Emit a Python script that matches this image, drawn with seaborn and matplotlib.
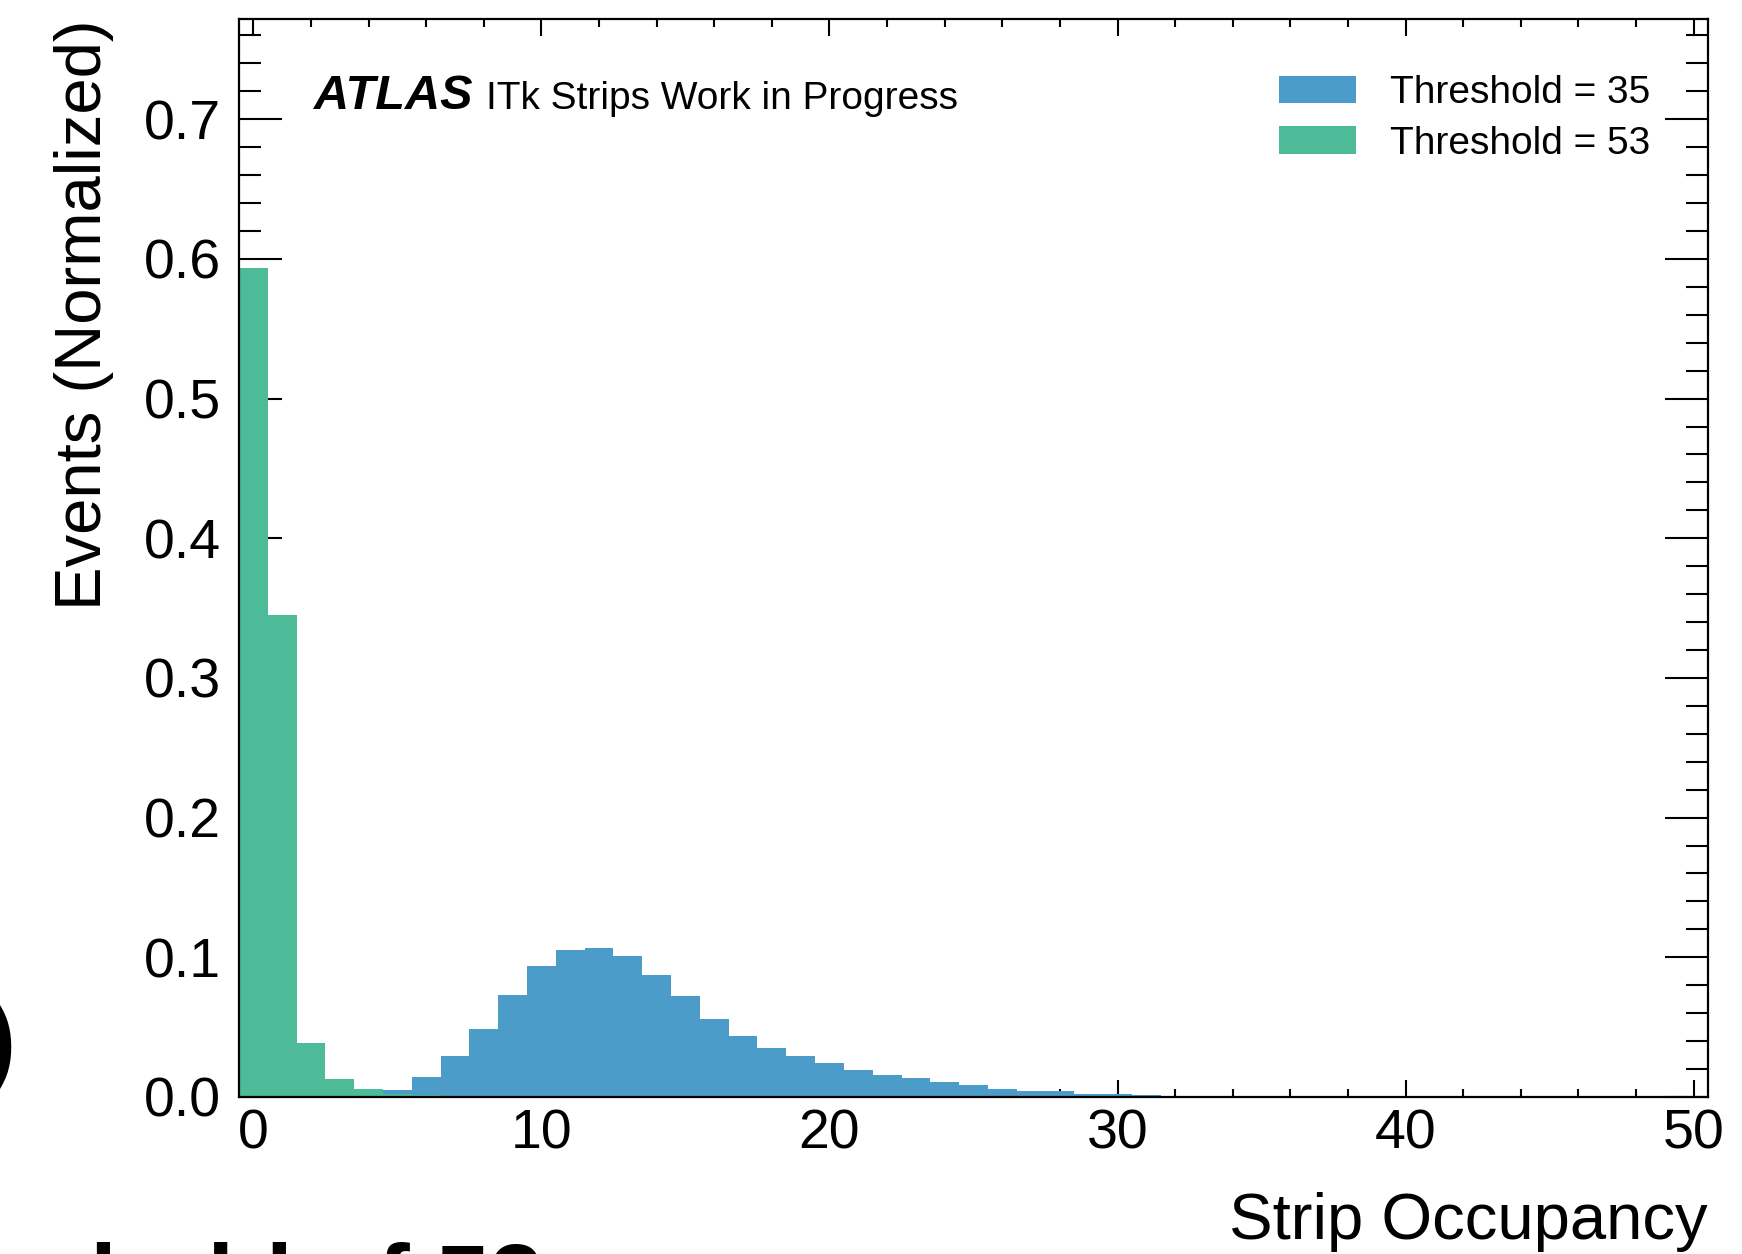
import numpy as np
import pandas as pd
import matplotlib
matplotlib.use("Agg")
import matplotlib.pyplot as plt
import matplotlib.ticker as mticker
import seaborn as sns

# ---------------------------------------------------------------
# Data: normalized strip-occupancy histograms (one bin per integer)
# ---------------------------------------------------------------
occ_35 = [5, 6, 7, 8, 9, 10, 11, 12, 13, 14, 15, 16, 17, 18, 19, 20,
          21, 22, 23, 24, 25, 26, 27, 28, 29, 30, 31]
frac_35 = [0.005, 0.014, 0.029, 0.049, 0.073, 0.094, 0.1055, 0.107, 0.101,
           0.087, 0.0725, 0.056, 0.044, 0.035, 0.029, 0.024, 0.019, 0.016,
           0.0136, 0.0105, 0.0088, 0.0058, 0.0042, 0.0040, 0.0020, 0.0020,
           0.0017]
occ_53 = [0, 1, 2, 3, 4, 5, 6]
frac_53 = [0.5936, 0.3448, 0.039, 0.013, 0.006, 0.0025, 0.0015]

labels = ["Threshold = 35", "Threshold = 53"]
BLUE, GREEN = "#4c9cc9", "#4dbb97"
edges = list(np.arange(-0.5, 51.0, 1.0))

df35 = pd.DataFrame({"occupancy": occ_35, "frac": frac_35})
df53 = pd.DataFrame({"occupancy": occ_53, "frac": frac_53})

# ---------------------------------------------------------------
# Style
# ---------------------------------------------------------------
sns.set_theme(style="ticks")
NARROW = ["Liberation Sans Narrow", "Liberation Sans", "DejaVu Sans"]
REGULAR = ["Liberation Sans", "DejaVu Sans"]
plt.rcParams["font.family"] = NARROW
plt.rcParams["text.color"] = "black"
plt.rcParams["axes.labelcolor"] = "black"

fig = plt.figure(figsize=(17.42, 12.54), dpi=100)
ax = fig.add_axes([0.1372, 0.1252, 0.8433, 0.8596])

sns.histplot(data=df35, x="occupancy", weights="frac", bins=edges,
             element="step", fill=True, color=BLUE, alpha=1, linewidth=0,
             ax=ax, label=labels[0])
sns.histplot(data=df53, x="occupancy", weights="frac", bins=edges,
             element="step", fill=True, color=GREEN, alpha=1, linewidth=0,
             ax=ax, label=labels[1])

ax.set_xlim(-0.5, 50.5)
ax.set_ylim(0, max(frac_53) * 1.3)

ax.xaxis.set_major_locator(mticker.MultipleLocator(10))
ax.xaxis.set_minor_locator(mticker.MultipleLocator(2))
ax.yaxis.set_major_locator(mticker.MultipleLocator(0.1))
ax.yaxis.set_minor_locator(mticker.MultipleLocator(0.02))
ax.yaxis.set_major_formatter(mticker.FormatStrFormatter("%.1f"))

ax.tick_params(which="both", direction="in", top=True, right=True,
               color="black", labelcolor="black", width=1.5, labelsize=40)
ax.tick_params(axis="y", which="major", length=31, pad=13)
ax.tick_params(axis="y", which="minor", length=16)
ax.tick_params(axis="x", which="major", length=12, pad=8)
ax.tick_params(axis="x", which="minor", length=6)
for sp in ax.spines.values():
    sp.set_visible(True)
    sp.set_color("black")
    sp.set_linewidth(1.6)

ax.set_xlabel("Strip Occupancy", fontsize=47, family=REGULAR, loc="right")
ax.set_ylabel("Events (Normalized)", fontsize=47, family=REGULAR, loc="top")
ax.xaxis.set_label_coords(1.0, -0.088)
ax.yaxis.set_label_coords(-0.085, 1.0)

ax.text(0.051, 0.9165, "ATLAS", transform=ax.transAxes, fontsize=35,
        fontweight="bold", fontstyle="italic", family=REGULAR, va="baseline")
ax.text(0.1679, 0.9165, "ITk Strips Work in Progress", transform=ax.transAxes,
        fontsize=28, va="baseline")

ax.legend(loc="upper right", bbox_to_anchor=(0.974, 0.966), frameon=False,
          fontsize=28, borderpad=0, handlelength=1.98, handleheight=0.72,
          handletextpad=0.88, labelspacing=0.37)

# pieces of the surrounding slide text that were caught in the crop
fig.text(-0.0098, 0.1443, ")", fontsize=72, fontweight="bold", family=REGULAR,
         va="baseline", ha="left")
fig.text(-0.098, -0.0463, "Threshold of 53", fontsize=69, fontweight="bold",
         family=REGULAR, va="baseline", ha="left")

fig.savefig("out.png", dpi=100)
